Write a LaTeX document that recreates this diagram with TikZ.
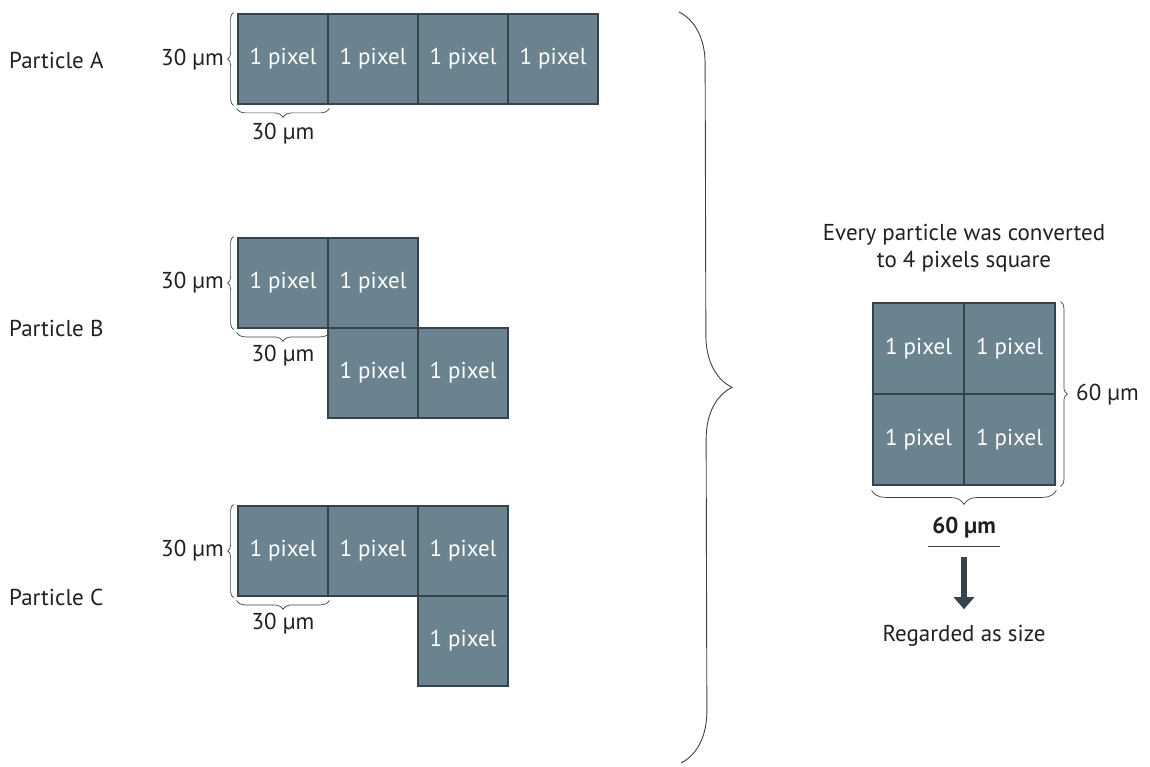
\documentclass[tikz,border=0pt]{standalone}
\usepackage{fontspec}
\setmainfont{PT Sans}
\usetikzlibrary{decorations.pathreplacing,arrows.meta}
\definecolor{pixfill}{HTML}{6B838F}
\definecolor{pixline}{HTML}{35434C}
\definecolor{txt}{HTML}{231F20}
\tikzset{
  pix/.style={draw=pixline, fill=pixfill, line width=2.8pt, minimum size=90pt, inner sep=0pt,
    text=white, font=\fontsize{23}{26}\selectfont},
  lbl/.style={text=txt, font=\fontsize{23}{26}\selectfont, inner sep=0pt},
  br/.style={decorate, decoration={brace, amplitude=6pt, raise=3pt}, draw=pixline, line width=0.7pt},
}
\begin{document}
\begin{tikzpicture}[x=1pt,y=-1pt]
\useasboundingbox (0,0) rectangle (1150,767);
% Particle A
\node[lbl, anchor=west] (pa) at (9,60) {Particle A};
\node[pix] (a1) at (283,59) {1 pixel};
\node[pix] (a2) at (373,59) {1 pixel};
\node[pix] (a3) at (463,59) {1 pixel};
\node[pix] (a4) at (553,59) {1 pixel};
\draw[br] (a1.south west) -- (a1.north west);
\draw[br, decoration={amplitude=9pt}] (a1.south east) -- (a1.south west);
\node[lbl, anchor=east] (alv) at (224,60) {30 µm};
\node[lbl] (ahv) at (283,134) {30 µm};
% Particle B
\node[lbl, anchor=west] (pb) at (9,328) {Particle B};
\node[pix] (b1) at (283,283) {1 pixel};
\node[pix] (b2) at (373,283) {1 pixel};
\node[pix] (b3) at (373,373) {1 pixel};
\node[pix] (b4) at (463,373) {1 pixel};
\draw[br] (b1.south west) -- (b1.north west);
\draw[br, decoration={amplitude=9pt}] (b1.south east) -- (b1.south west);
\node[lbl, anchor=east] (blv) at (224,283) {30 µm};
\node[lbl] (bhv) at (283,356) {30 µm};
% Particle C
\node[lbl, anchor=west] (pc) at (9,597) {Particle C};
\node[pix] (c1) at (283,551) {1 pixel};
\node[pix] (c2) at (373,551) {1 pixel};
\node[pix] (c3) at (463,551) {1 pixel};
\node[pix] (c4) at (463,641) {1 pixel};
\draw[br] (c1.south west) -- (c1.north west);
\draw[br, decoration={amplitude=9pt}] (c1.south east) -- (c1.south west);
\node[lbl, anchor=east] (clv) at (224,551) {30 µm};
\node[lbl] (chv) at (283,624) {30 µm};
% big brace
\coordinate (bt) at (679,12);
\coordinate (bb) at (681,763);
\draw[decorate, decoration={brace, amplitude=52pt}, draw=pixline, line width=0.9pt] (bt) -- (bb);
% right side
\node[lbl] (t1) at (964,235) {Every particle was converted};
\node[lbl] (t2) at (964,262) {to 4 pixels square};
\node[pix, minimum size=91pt] (r1) at (918.5,348.5) {1 pixel};
\node[pix, minimum size=91pt] (r2) at (1009.5,348.5) {1 pixel};
\node[pix, minimum size=91pt] (r3) at (918.5,439.5) {1 pixel};
\node[pix, minimum size=91pt] (r4) at (1009.5,439.5) {1 pixel};
\draw[br, decoration={amplitude=7pt, raise=4pt}] (r2.north east) -- (r4.south east);
\draw[br, decoration={amplitude=14pt, raise=4pt}] (r4.south east) -- (r3.south west);
\node[lbl, anchor=west] (rv) at (1076,395) {60 µm};
\node[lbl, font=\fontsize{23}{26}\selectfont\bfseries] (rh) at (964,528) {60 µm};
\draw[pixline, line width=0.8pt] ([xshift=-4pt,yshift=-8pt]rh.south west) -- ([xshift=4pt,yshift=-8pt]rh.south east);
\node[lbl] (reg) at (964,636) {Regarded as size};
\draw[pixline, line width=6pt, shorten >=16pt, -{Triangle[width=20pt,length=12pt]}] ([yshift=-18pt]rh.south) -- (reg.north);
\end{tikzpicture}
\end{document}
